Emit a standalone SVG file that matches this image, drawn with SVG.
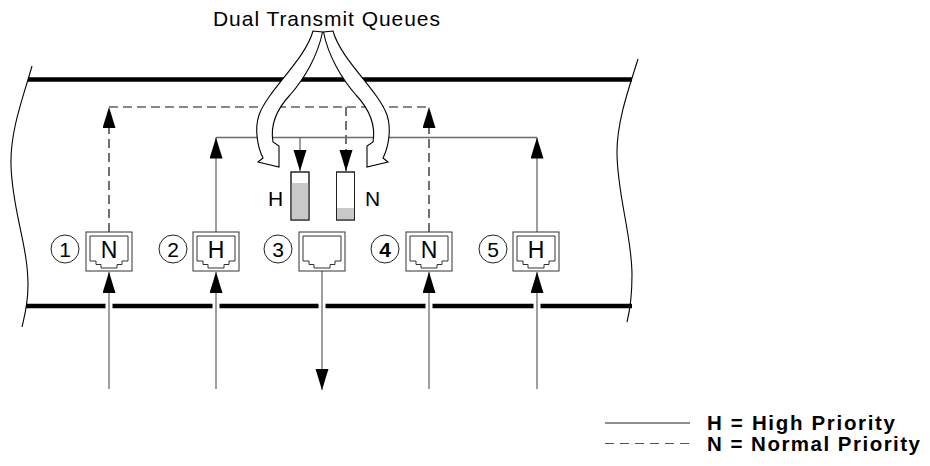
<svg xmlns="http://www.w3.org/2000/svg" width="930" height="466" viewBox="0 0 930 466">
  <style>
    .band { stroke: #000; stroke-width: 4.5; fill: none; }
    .edge { stroke: #000; stroke-width: 1.1; fill: none; }
    .solid { stroke: #6a6a6a; stroke-width: 1.3; fill: none; }
    .dash { stroke: #111; stroke-width: 1.2; fill: none; stroke-dasharray: 9 5; }
    .gap { stroke: #fff; stroke-width: 7; }
    .box { fill: #fff; stroke: #333; stroke-width: 1; }
    .jack { fill: none; stroke: #333; stroke-width: 1; }
    .num { fill: #fff; stroke: #222; stroke-width: 1; }
    .t { font-family: "Liberation Sans", Arial, sans-serif; fill: #000; }
    .hollow { fill: #fff; stroke: #000; stroke-width: 1.1; stroke-linejoin: miter; }
    .queue { fill: #fff; stroke: #222; stroke-width: 1; }
    .level { fill: #c8c8c8; }
  </style>
  <defs>
    <marker id="ah" markerUnits="userSpaceOnUse" markerWidth="22" markerHeight="14" refX="21" refY="6.5" orient="auto">
      <path d="M0,0 L21,6.5 L0,13 Z" fill="#000"/>
    </marker>
    <g id="jack">
      <rect class="box" x="0" y="0" width="46" height="39"/>
      <path class="jack" d="M4,29 V4 H42 V29 H36 V32.5 H31 V36 H15 V32.5 H10 V29 Z"/>
    </g>
  </defs>
  <rect width="930" height="466" fill="#fff"/>

  <g id="title">
    <text class="t" x="213" y="26" font-size="21" textLength="227" lengthAdjust="spacing">Dual Transmit Queues</text>
  </g>

  <g id="backplane">
    <path class="edge" d="M32,66 C24,95 10,130 11,165 C12,210 28,245 28,285 C28,305 24,318 22,327"/>
    <path class="edge" d="M638,59 C630,85 617,120 617,152 C617,195 632,235 632,275 C632,295 630,310 627,322"/>
    <line class="band" x1="28" y1="79.5" x2="632" y2="79.5"/>
    <line class="band" x1="26" y1="306" x2="632" y2="306"/>
  </g>

  <g id="connectors">
    <line class="gap" x1="109" y1="302" x2="109" y2="310"/>
    <line class="gap" x1="216" y1="302" x2="216" y2="310"/>
    <line class="gap" x1="322" y1="302" x2="322" y2="310"/>
    <line class="gap" x1="429" y1="302" x2="429" y2="310"/>
    <line class="gap" x1="537" y1="302" x2="537" y2="310"/>
    <line class="solid" x1="109" y1="389" x2="109" y2="272" marker-end="url(#ah)"/>
    <line class="solid" x1="216" y1="389" x2="216" y2="272" marker-end="url(#ah)"/>
    <line class="solid" x1="429" y1="389" x2="429" y2="272" marker-end="url(#ah)"/>
    <line class="solid" x1="537" y1="389" x2="537" y2="272" marker-end="url(#ah)"/>
    <line class="solid" x1="322" y1="271" x2="322" y2="390" marker-end="url(#ah)"/>
    <line class="dash" x1="109" y1="107" x2="429" y2="107"/>
    <line class="dash" x1="109" y1="232" x2="109" y2="107" marker-end="url(#ah)"/>
    <line class="dash" x1="429" y1="232" x2="429" y2="107" marker-end="url(#ah)"/>
    <line class="dash" x1="346" y1="107" x2="346" y2="171" marker-end="url(#ah)"/>
    <line class="solid" x1="216" y1="137.5" x2="537" y2="137.5"/>
    <line class="solid" x1="216" y1="232" x2="216" y2="137.5" marker-end="url(#ah)"/>
    <line class="solid" x1="537" y1="232" x2="537" y2="137.5" marker-end="url(#ah)"/>
    <line class="solid" x1="300" y1="137.5" x2="300" y2="171" marker-end="url(#ah)"/>
  </g>

  <g id="dual-queue-arrows">
    <path class="hollow" d="M313,31 C305,60 268,90 259,115 C254,130 258,148 263,158 L258,162 L279,167 L279,146 L273,142 C270,125 276,110 290,95 C305,78 318,55 322.5,32 Z"/>
    <path class="hollow" d="M323.5,32 C328,55 341,78 356,95 C370,110 376,125 373,142 L367,146 L367,167 L388,162 L383,158 C388,148 392,130 387,115 C378,90 341,60 333,31 Z"/>
  </g>

  <g id="queue-h">
    <rect class="queue" x="291" y="172" width="18" height="48"/>
    <rect class="level" x="291.5" y="183" width="17" height="36.5"/>
    <rect x="291" y="172" width="18" height="48" fill="none" stroke="#222" stroke-width="1"/>
    <text class="t" x="275.5" y="205.5" font-size="21" text-anchor="middle">H</text>
  </g>
  <g id="queue-n">
    <rect class="queue" x="336.5" y="172" width="18" height="48"/>
    <rect class="level" x="337" y="208" width="17" height="11.5"/>
    <rect x="336.5" y="172" width="18" height="48" fill="none" stroke="#222" stroke-width="1"/>
    <text class="t" x="372.5" y="205.5" font-size="21" text-anchor="middle">N</text>
  </g>

  <g id="port-1">
    <use href="#jack" x="86" y="232"/>
    <text class="t" x="109" y="257.5" font-size="23" text-anchor="middle">N</text>
    <circle class="num" cx="65" cy="249" r="14"/>
    <text class="t" x="65" y="256.5" font-size="21" text-anchor="middle">1</text>
  </g>
  <g id="port-2">
    <use href="#jack" x="193" y="232"/>
    <text class="t" x="216" y="257.5" font-size="23" text-anchor="middle">H</text>
    <circle class="num" cx="173" cy="249" r="14"/>
    <text class="t" x="173" y="256.5" font-size="21" text-anchor="middle">2</text>
  </g>
  <g id="port-3">
    <use href="#jack" x="299" y="232"/>
    <circle class="num" cx="278" cy="249" r="14"/>
    <text class="t" x="278" y="256.5" font-size="21" text-anchor="middle">3</text>
  </g>
  <g id="port-4">
    <use href="#jack" x="406" y="232"/>
    <text class="t" x="429" y="257.5" font-size="23" text-anchor="middle">N</text>
    <circle class="num" cx="385" cy="249" r="14"/>
    <text class="t" x="385" y="256.5" font-size="21" font-weight="bold" text-anchor="middle">4</text>
  </g>
  <g id="port-5">
    <use href="#jack" x="513" y="232"/>
    <text class="t" x="536" y="257.5" font-size="23" text-anchor="middle">H</text>
    <circle class="num" cx="493" cy="249" r="14"/>
    <text class="t" x="493" y="256.5" font-size="21" text-anchor="middle">5</text>
  </g>

  <g id="legend">
    <line class="solid" x1="605" y1="423" x2="690" y2="423"/>
    <line x1="605" y1="443.5" x2="690" y2="443.5" stroke="#555" stroke-width="1.2" stroke-dasharray="9 6"/>
    <text class="t" x="707" y="430" font-size="20.5" font-weight="bold" textLength="188" lengthAdjust="spacing">H = High Priority</text>
    <text class="t" x="707" y="451" font-size="20.5" font-weight="bold" textLength="213" lengthAdjust="spacing">N = Normal Priority</text>
  </g>
</svg>
